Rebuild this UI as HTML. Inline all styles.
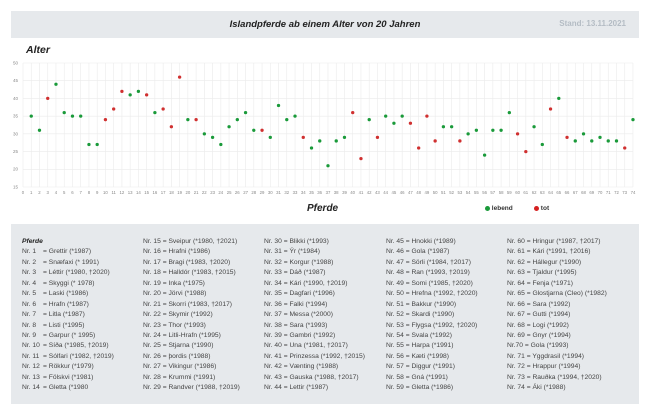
<!DOCTYPE html>
<html><head><meta charset="utf-8"><style>
body{margin:0;width:650px;height:415px;background:#fff;font-family:"Liberation Sans",sans-serif;position:relative;overflow:hidden}
.hdr{position:absolute;left:11px;top:11px;width:628px;height:27px;background:#e6e9ec}
.title{position:absolute;left:0;width:650px;top:19px;text-align:center;font-weight:bold;font-style:italic;font-size:9.5px;color:#222}
.stand{position:absolute;right:24px;top:19px;font-size:8px;color:#b4bcc4;font-weight:bold}
.panel{position:absolute;left:11px;top:224px;width:628px;height:180px;background:#e6e9ec}
.col{position:absolute;top:237px;font-size:6.7px;line-height:10.43px;color:#444;white-space:nowrap}
.col b{font-style:italic;color:#222}
.n{display:inline-block;width:21px}
</style></head><body>
<div class="hdr"></div>
<div class="title">Islandpferde ab einem Alter von 20 Jahren</div>
<div class="stand">Stand: 13.11.2021</div>
<div style="position:absolute;left:26px;top:44px;font-weight:bold;font-style:italic;font-size:10.5px;color:#222">Alter</div>
<div style="position:absolute;left:307px;top:203px;font-weight:bold;font-style:italic;font-size:10px;color:#222">Pferde</div>
<div style="position:absolute;left:485px;top:205px;font-size:6.5px;font-weight:bold;color:#333"><span style="display:inline-block;width:5px;height:5px;border-radius:50%;background:#1a9a3a;vertical-align:-0.5px"></span> lebend</div>
<div style="position:absolute;left:534px;top:205px;font-size:6.5px;font-weight:bold;color:#333"><span style="display:inline-block;width:5px;height:5px;border-radius:50%;background:#d52020;vertical-align:-0.5px"></span> tot</div>
<svg width="650" height="415" style="position:absolute;left:0;top:0">
<g transform="translate(23,187) scale(8.243,-3.543)">
<g stroke="#ebebeb" stroke-width="0.6" vector-effect="non-scaling-stroke">
<path vector-effect="non-scaling-stroke" d="M0 0V35M1 0V35M2 0V35M3 0V35M4 0V35M5 0V35M6 0V35M7 0V35M8 0V35M9 0V35M10 0V35M11 0V35M12 0V35M13 0V35M14 0V35M15 0V35M16 0V35M17 0V35M18 0V35M19 0V35M20 0V35M21 0V35M22 0V35M23 0V35M24 0V35M25 0V35M26 0V35M27 0V35M28 0V35M29 0V35M30 0V35M31 0V35M32 0V35M33 0V35M34 0V35M35 0V35M36 0V35M37 0V35M38 0V35M39 0V35M40 0V35M41 0V35M42 0V35M43 0V35M44 0V35M45 0V35M46 0V35M47 0V35M48 0V35M49 0V35M50 0V35M51 0V35M52 0V35M53 0V35M54 0V35M55 0V35M56 0V35M57 0V35M58 0V35M59 0V35M60 0V35M61 0V35M62 0V35M63 0V35M64 0V35M65 0V35M66 0V35M67 0V35M68 0V35M69 0V35M70 0V35M71 0V35M72 0V35M73 0V35M74 0V35M0 0H74M0 5H74M0 10H74M0 15H74M0 20H74M0 25H74M0 30H74M0 35H74"/>
</g>
<g fill="#1a9a3a">
<ellipse cx="1" cy="20" rx="0.2" ry="0.46"/><ellipse cx="2" cy="16" rx="0.2" ry="0.46"/><ellipse cx="4" cy="29" rx="0.2" ry="0.46"/><ellipse cx="5" cy="21" rx="0.2" ry="0.46"/><ellipse cx="6" cy="20" rx="0.2" ry="0.46"/><ellipse cx="7" cy="20" rx="0.2" ry="0.46"/><ellipse cx="8" cy="12" rx="0.2" ry="0.46"/><ellipse cx="9" cy="12" rx="0.2" ry="0.46"/><ellipse cx="13" cy="26" rx="0.2" ry="0.46"/><ellipse cx="14" cy="27" rx="0.2" ry="0.46"/><ellipse cx="16" cy="21" rx="0.2" ry="0.46"/><ellipse cx="20" cy="19" rx="0.2" ry="0.46"/><ellipse cx="22" cy="15" rx="0.2" ry="0.46"/><ellipse cx="23" cy="14" rx="0.2" ry="0.46"/><ellipse cx="24" cy="12" rx="0.2" ry="0.46"/><ellipse cx="25" cy="17" rx="0.2" ry="0.46"/><ellipse cx="26" cy="19" rx="0.2" ry="0.46"/><ellipse cx="27" cy="21" rx="0.2" ry="0.46"/><ellipse cx="28" cy="16" rx="0.2" ry="0.46"/><ellipse cx="30" cy="14" rx="0.2" ry="0.46"/><ellipse cx="31" cy="23" rx="0.2" ry="0.46"/><ellipse cx="32" cy="19" rx="0.2" ry="0.46"/><ellipse cx="33" cy="20" rx="0.2" ry="0.46"/><ellipse cx="35" cy="11" rx="0.2" ry="0.46"/><ellipse cx="36" cy="13" rx="0.2" ry="0.46"/><ellipse cx="37" cy="6" rx="0.2" ry="0.46"/><ellipse cx="38" cy="13" rx="0.2" ry="0.46"/><ellipse cx="39" cy="14" rx="0.2" ry="0.46"/><ellipse cx="42" cy="19" rx="0.2" ry="0.46"/><ellipse cx="44" cy="20" rx="0.2" ry="0.46"/><ellipse cx="45" cy="18" rx="0.2" ry="0.46"/><ellipse cx="46" cy="20" rx="0.2" ry="0.46"/><ellipse cx="51" cy="17" rx="0.2" ry="0.46"/><ellipse cx="52" cy="17" rx="0.2" ry="0.46"/><ellipse cx="54" cy="15" rx="0.2" ry="0.46"/><ellipse cx="55" cy="16" rx="0.2" ry="0.46"/><ellipse cx="56" cy="9" rx="0.2" ry="0.46"/><ellipse cx="57" cy="16" rx="0.2" ry="0.46"/><ellipse cx="58" cy="16" rx="0.2" ry="0.46"/><ellipse cx="59" cy="21" rx="0.2" ry="0.46"/><ellipse cx="62" cy="17" rx="0.2" ry="0.46"/><ellipse cx="63" cy="12" rx="0.2" ry="0.46"/><ellipse cx="65" cy="25" rx="0.2" ry="0.46"/><ellipse cx="67" cy="13" rx="0.2" ry="0.46"/><ellipse cx="68" cy="15" rx="0.2" ry="0.46"/><ellipse cx="69" cy="13" rx="0.2" ry="0.46"/><ellipse cx="70" cy="14" rx="0.2" ry="0.46"/><ellipse cx="71" cy="13" rx="0.2" ry="0.46"/><ellipse cx="72" cy="13" rx="0.2" ry="0.46"/><ellipse cx="74" cy="19" rx="0.2" ry="0.46"/>
</g>
<g fill="#d03030">
<ellipse cx="3" cy="25" rx="0.2" ry="0.46"/><ellipse cx="10" cy="19" rx="0.2" ry="0.46"/><ellipse cx="11" cy="22" rx="0.2" ry="0.46"/><ellipse cx="12" cy="27" rx="0.2" ry="0.46"/><ellipse cx="15" cy="26" rx="0.2" ry="0.46"/><ellipse cx="17" cy="22" rx="0.2" ry="0.46"/><ellipse cx="18" cy="17" rx="0.2" ry="0.46"/><ellipse cx="19" cy="31" rx="0.2" ry="0.46"/><ellipse cx="21" cy="19" rx="0.2" ry="0.46"/><ellipse cx="29" cy="16" rx="0.2" ry="0.46"/><ellipse cx="34" cy="14" rx="0.2" ry="0.46"/><ellipse cx="40" cy="21" rx="0.2" ry="0.46"/><ellipse cx="41" cy="8" rx="0.2" ry="0.46"/><ellipse cx="43" cy="14" rx="0.2" ry="0.46"/><ellipse cx="47" cy="18" rx="0.2" ry="0.46"/><ellipse cx="48" cy="11" rx="0.2" ry="0.46"/><ellipse cx="49" cy="20" rx="0.2" ry="0.46"/><ellipse cx="50" cy="13" rx="0.2" ry="0.46"/><ellipse cx="53" cy="13" rx="0.2" ry="0.46"/><ellipse cx="60" cy="15" rx="0.2" ry="0.46"/><ellipse cx="61" cy="10" rx="0.2" ry="0.46"/><ellipse cx="64" cy="22" rx="0.2" ry="0.46"/><ellipse cx="66" cy="14" rx="0.2" ry="0.46"/><ellipse cx="73" cy="11" rx="0.2" ry="0.46"/>
</g>
</g>
<g font-size="4.5" fill="#888" text-anchor="end" font-family="Liberation Sans">
<text x="18" y="64.5">50</text><text x="18" y="82.2">45</text><text x="18" y="99.9">40</text><text x="18" y="117.6">35</text><text x="18" y="135.3">30</text><text x="18" y="153">25</text><text x="18" y="170.7">20</text><text x="18" y="188.5">15</text>
</g>
<g font-size="4.3" fill="#888" text-anchor="middle" font-family="Liberation Sans">
<text x="23" y="194">0</text><text x="31.2" y="194">1</text><text x="39.5" y="194">2</text><text x="47.7" y="194">3</text><text x="56" y="194">4</text><text x="64.2" y="194">5</text><text x="72.5" y="194">6</text><text x="80.7" y="194">7</text><text x="88.9" y="194">8</text><text x="97.2" y="194">9</text><text x="105.4" y="194">10</text><text x="113.7" y="194">11</text><text x="121.9" y="194">12</text><text x="130.2" y="194">13</text><text x="138.4" y="194">14</text><text x="146.6" y="194">15</text><text x="154.9" y="194">16</text><text x="163.1" y="194">17</text><text x="171.4" y="194">18</text><text x="179.6" y="194">19</text><text x="187.9" y="194">20</text><text x="196.1" y="194">21</text><text x="204.3" y="194">22</text><text x="212.6" y="194">23</text><text x="220.8" y="194">24</text><text x="229.1" y="194">25</text><text x="237.3" y="194">26</text><text x="245.6" y="194">27</text><text x="253.8" y="194">28</text><text x="262" y="194">29</text><text x="270.3" y="194">30</text><text x="278.5" y="194">31</text><text x="286.8" y="194">32</text><text x="295" y="194">33</text><text x="303.3" y="194">34</text><text x="311.5" y="194">35</text><text x="319.7" y="194">36</text><text x="328" y="194">37</text><text x="336.2" y="194">38</text><text x="344.5" y="194">39</text><text x="352.7" y="194">40</text><text x="361" y="194">41</text><text x="369.2" y="194">42</text><text x="377.4" y="194">43</text><text x="385.7" y="194">44</text><text x="393.9" y="194">45</text><text x="402.2" y="194">46</text><text x="410.4" y="194">47</text><text x="418.7" y="194">48</text><text x="426.9" y="194">49</text><text x="435.2" y="194">50</text><text x="443.4" y="194">51</text><text x="451.6" y="194">52</text><text x="459.9" y="194">53</text><text x="468.1" y="194">54</text><text x="476.4" y="194">55</text><text x="484.6" y="194">56</text><text x="492.8" y="194">57</text><text x="501.1" y="194">58</text><text x="509.3" y="194">59</text><text x="517.6" y="194">60</text><text x="525.8" y="194">61</text><text x="534.1" y="194">62</text><text x="542.3" y="194">63</text><text x="550.6" y="194">64</text><text x="558.8" y="194">65</text><text x="567" y="194">66</text><text x="575.3" y="194">67</text><text x="583.5" y="194">68</text><text x="591.8" y="194">69</text><text x="600" y="194">70</text><text x="608.3" y="194">71</text><text x="616.5" y="194">72</text><text x="624.7" y="194">73</text><text x="633" y="194">74</text>
</g>
</svg>
<div class="panel"></div>
<div class="col" style="left:22px"><b>Pferde</b><br>
<span class="n">Nr. 1</span>= Grettir (*1987)<br><span class="n">Nr. 2</span>= Snæfaxi (* 1991)<br><span class="n">Nr. 3</span>= Léttir (*1980, †2020)<br><span class="n">Nr. 4</span>= Skyggi (* 1978)<br><span class="n">Nr. 5</span>= Laski (*1986)<br><span class="n">Nr. 6</span>= Hrafn (*1987)<br><span class="n">Nr. 7</span>= Litla (*1987)<br><span class="n">Nr. 8</span>= Listi (*1995)<br><span class="n">Nr. 9</span>= Garpur (* 1995)<br><span class="n">Nr. 10</span>= Síða (*1985, †2019)<br><span class="n">Nr. 11</span>= Sólfari (*1982, †2019)<br><span class="n">Nr. 12</span>= Rökkur (*1979)<br><span class="n">Nr. 13</span>= Fölskvi (*1981)<br><span class="n">Nr. 14</span>= Gletta (*1980</div>
<div class="col" style="left:143px">Nr. 15 = Sveipur (*1980, †2021)<br>Nr. 16 = Hrafni (*1986)<br>Nr. 17 = Bragi (*1983, †2020)<br>Nr. 18 = Halldór (*1983, †2015)<br>Nr. 19 = Inka (*1975)<br>Nr. 20 = Jörvi (*1988)<br>Nr. 21 = Skorri (*1983, †2017)<br>Nr. 22 = Skymir (*1992)<br>Nr. 23 = Thor (*1993)<br>Nr. 24 = Litli-Hrafn (*1995)<br>Nr. 25 = Stjarna (*1990)<br>Nr. 26 = þordis (*1988)<br>Nr. 27 = Vikingur (*1986)<br>Nr. 28 = Krummi (*1991)<br>Nr. 29 = Randver (*1988, †2019)</div>
<div class="col" style="left:264px">Nr. 30 = Blikki (*1993)<br>Nr. 31 = Ýr (*1984)<br>Nr. 32 = Korgur (*1988)<br>Nr. 33 = Dáð (*1987)<br>Nr. 34 = Kári (*1990, †2019)<br>Nr. 35 = Dagfari (*1996)<br>Nr. 36 = Falki (*1994)<br>Nr. 37 = Messa (*2000)<br>Nr. 38 = Sara (*1993)<br>Nr. 39 = Gambri (*1992)<br>Nr. 40 = Una (*1981, †2017)<br>Nr. 41 = Prinzessa (*1992, †2015)<br>Nr. 42 = Vænting (*1988)<br>Nr. 43 = Gauska (*1988, †2017)<br>Nr. 44 = Lettir (*1987)</div>
<div class="col" style="left:386px">Nr. 45 = Hnokki (*1989)<br>Nr. 46 = Gola (*1987)<br>Nr. 47 = Sörli (*1984, †2017)<br>Nr. 48 = Ran (*1993, †2019)<br>Nr. 49 = Somi (*1985, †2020)<br>Nr. 50 = Hrefna (*1992, †2020)<br>Nr. 51 = Bakkur (*1990)<br>Nr. 52 = Skardi (*1990)<br>Nr. 53 = Flygsa (*1992, †2020)<br>Nr. 54 = Svala (*1992)<br>Nr. 55 = Harpa (*1991)<br>Nr. 56 = Kæti (*1998)<br>Nr. 57 = Diggur (*1991)<br>Nr. 58 = Gná (*1991)<br>Nr. 59 = Gletta (*1986)</div>
<div class="col" style="left:507px">Nr. 60 = Hringur (*1987, †2017)<br>Nr. 61 = Kári (*1991, †2016)<br>Nr. 62 = Hállegur (*1990)<br>Nr. 63 = Tjaldur (*1995)<br>Nr. 64 = Fenja (*1971)<br>Nr. 65 = Glostjarna (Cleo) (*1982)<br>Nr. 66 = Sara (*1992)<br>Nr. 67 = Gutti (*1994)<br>Nr. 68 = Logi (*1992)<br>Nr. 69 = Gnyr (*1994)<br>Nr.70 = Gola (*1993)<br>Nr. 71 = Yggdrasil (*1994)<br>Nr. 72 = Hrappur (*1994)<br>Nr. 73 = Rauðka (*1994, †2020)<br>Nr. 74 = Áki (*1988)</div>
</body></html>
